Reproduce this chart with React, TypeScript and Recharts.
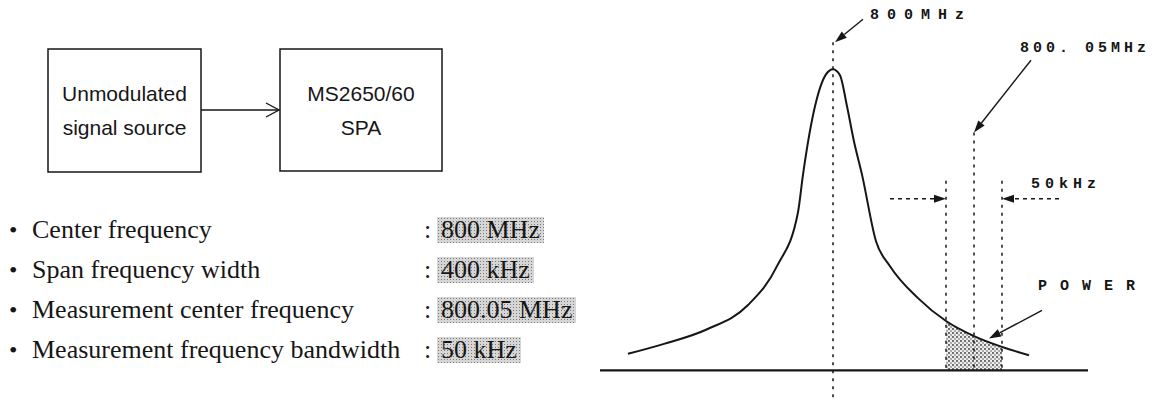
import { ComposedChart, Line, Area, XAxis, YAxis, ReferenceLine } from 'recharts';

// spectrum trace, position relative to the carrier and relative level (peak = 100)
const curvePos = [-205, -169, -127, -85, -56, -35, -30, -18, -7, 0, 7, 14, 21, 29, 43, 57, 85, 113, 141, 169, 196];
const curveLevel = [5.5, 8.8, 13.5, 21.7, 34.6, 52.5, 65, 87.7, 98.3, 100, 98, 87.7, 76, 65, 42.9, 34.6, 24, 16.4, 11.4, 7.8, 5];

// measurement window
const bandEdges = [113, 169];
const measCenter = 141;

const blockLabels = [
  ['Unmodulated', 'signal source'],
  ['MS2650/60', 'SPA'],
];
const paramNames = [
  'Center frequency',
  'Span frequency width',
  'Measurement center frequency',
  'Measurement frequency bandwidth',
];
const paramValues = ['800 MHz', '400 kHz', '800.05 MHz', '50 kHz'];
const markerLabels = ['800MHz', '800. 05MHz', '50kHz', 'POWER'];

const data = curvePos.map((pos, i) => ({
  pos,
  level: curveLevel[i],
  power: pos >= bandEdges[0] && pos <= bandEdges[1] ? curveLevel[i] : null,
}));

const INK = '#161616';
const mono = '"Liberation Mono", "DejaVu Sans Mono", monospace';
const serif = '"Liberation Serif", "DejaVu Serif", serif';
const sans = '"Liberation Sans", Arial, sans-serif';

function Arrow(props: any) {
  const { x1, y1, x2, y2, dash } = props;
  const ang = Math.atan2(y2 - y1, x2 - x1);
  const len = 12;
  const half = 4;
  const bx = x2 - len * Math.cos(ang);
  const by = y2 - len * Math.sin(ang);
  const px = -Math.sin(ang) * half;
  const py = Math.cos(ang) * half;
  return (
    <g>
      <line x1={x1} y1={y1} x2={bx} y2={by} stroke={INK} strokeWidth={1.4} strokeDasharray={dash} />
      <polygon points={`${x2},${y2} ${bx + px},${by + py} ${bx - px},${by - py}`} fill={INK} />
    </g>
  );
}

const dashed = { stroke: INK, strokeWidth: 1.5, strokeDasharray: '3 5', ifOverflow: 'visible' as const };

export default function App() {
  return (
    <div style={{ position: 'absolute', left: 0, top: 0, width: 1154, height: 402, background: '#fff' }}>
      <style>{'body{margin:0}'}</style>
      <svg width={0} height={0} style={{ position: 'absolute' }}>
        <defs>
          <pattern id="stipple" width="4" height="4" patternUnits="userSpaceOnUse">
            <rect width="4" height="4" fill="#eeeeee" />
            <circle cx="1" cy="1" r="0.9" fill="#333" />
            <circle cx="3" cy="3" r="0.8" fill="#555" />
          </pattern>
        </defs>
      </svg>

      {/* block diagram */}
      <svg width={460} height={190} style={{ position: 'absolute', left: 0, top: 0 }}>
        <rect x={48} y={49} width={153} height={123} fill="none" stroke={INK} strokeWidth={1.5} />
        <rect x={280} y={49} width={162} height={122} fill="none" stroke={INK} strokeWidth={1.5} />
        <line x1={201} y1={110} x2={279} y2={110} stroke={INK} strokeWidth={1.4} />
        <polyline points="266,103 279,110 266,117" fill="none" stroke={INK} strokeWidth={1.4} />
        {blockLabels.map((lines, b) =>
          lines.map((t, j) => (
            <text
              key={`${b}-${j}`}
              x={b === 0 ? 124.5 : 361}
              y={93 + j * 34}
              textAnchor="middle"
              dominantBaseline="central"
              fontFamily={sans}
              fontSize={21}
              fill={INK}
            >
              {t}
            </text>
          ))
        )}
      </svg>

      {/* settings list */}
      {paramNames.map((name, i) => (
        <div
          key={name}
          style={{
            position: 'absolute',
            left: 0,
            top: 230 + i * 40 - 16,
            height: 32,
            lineHeight: '32px',
            width: 600,
            fontFamily: serif,
            fontSize: 26,
            color: INK,
          }}
        >
          <span style={{ position: 'absolute', left: 9, fontSize: 24 }}>•</span>
          <span style={{ position: 'absolute', left: 32 }}>{name}</span>
          <span style={{ position: 'absolute', left: 424 }}>:</span>
          <span
            style={{
              position: 'absolute',
              left: 437,
              padding: '0 4px',
              lineHeight: '26px',
              top: 3,
              backgroundColor: '#d6d6d6',
              backgroundImage: 'radial-gradient(#7a7a7a 0.7px, transparent 0.9px)',
              backgroundSize: '3px 3px',
            }}
          >
            {paramValues[i]}
          </span>
        </div>
      ))}

      {/* spectrum */}
      <div style={{ position: 'absolute', left: 0, top: 0 }}>
        <ComposedChart width={1154} height={402} data={data} margin={{ top: 9, right: 66, bottom: 0, left: 600 }}>
          <XAxis type="number" dataKey="pos" domain={[-233, 255]} hide allowDataOverflow />
          <YAxis type="number" domain={[-10.5, 120]} hide allowDataOverflow />
          <Area
            type="monotone"
            dataKey="power"
            baseValue={0}
            stroke="none"
            fill="url(#stipple)"
            fillOpacity={1}
            isAnimationActive={false}
          />
          <ReferenceLine segment={[{ x: 0, y: 109 }, { x: 0, y: -10.5 }]} {...dashed} />
          <ReferenceLine segment={[{ x: measCenter, y: 79 }, { x: measCenter, y: 0 }]} {...dashed} />
          <ReferenceLine segment={[{ x: bandEdges[0], y: 63 }, { x: bandEdges[0], y: 0 }]} {...dashed} />
          <ReferenceLine segment={[{ x: bandEdges[1], y: 63 }, { x: bandEdges[1], y: 0 }]} {...dashed} />
          <ReferenceLine y={0} stroke={INK} strokeWidth={2.2} ifOverflow="visible" />
          <Line
            type="monotone"
            dataKey="level"
            stroke={INK}
            strokeWidth={2}
            dot={false}
            isAnimationActive={false}
          />
          <ReferenceLine
            segment={[{ x: 30, y: 116.6 }, { x: 2, y: 109 }]}
            ifOverflow="visible"
            shape={(p: any) => <Arrow {...p} />}
          />
          <ReferenceLine
            segment={[{ x: 198, y: 103 }, { x: measCenter, y: 79 }]}
            ifOverflow="visible"
            shape={(p: any) => <Arrow {...p} />}
          />
          <ReferenceLine
            segment={[{ x: 57, y: 57 }, { x: bandEdges[0], y: 57 }]}
            ifOverflow="visible"
            shape={(p: any) => <Arrow {...p} dash="4 4" />}
          />
          <ReferenceLine
            segment={[{ x: 226, y: 57 }, { x: bandEdges[1], y: 57 }]}
            ifOverflow="visible"
            shape={(p: any) => <Arrow {...p} dash="4 4" />}
          />
          <ReferenceLine
            segment={[{ x: 209, y: 19.9 }, { x: 156, y: 10.6 }]}
            ifOverflow="visible"
            shape={(p: any) => <Arrow {...p} />}
          />
        </ComposedChart>
      </div>

      {/* marker captions */}
      {[
        { left: 870, top: 16, ls: 8 },
        { left: 1020, top: 49, ls: 4 },
        { left: 1031, top: 185, ls: 5 },
        { left: 1038, top: 287, ls: 13 },
      ].map((p, i) => (
        <div
          key={markerLabels[i]}
          style={{
            position: 'absolute',
            left: p.left,
            top: p.top - 10,
            lineHeight: '20px',
            fontFamily: mono,
            fontWeight: 'bold',
            fontSize: 15,
            letterSpacing: p.ls,
            color: INK,
            whiteSpace: 'pre',
          }}
        >
          {markerLabels[i]}
        </div>
      ))}
    </div>
  );
}
